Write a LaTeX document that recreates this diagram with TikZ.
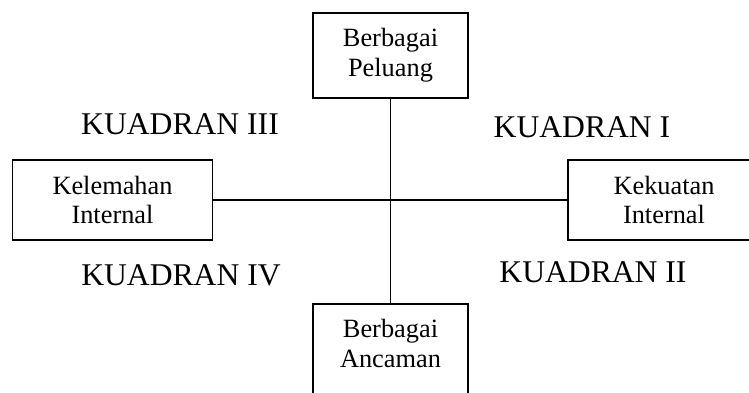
\documentclass[tikz,border=0pt]{standalone}
\usepackage{fontspec}
\setmainfont{Liberation Serif}
\usetikzlibrary{positioning}

\begin{document}
\begin{tikzpicture}[x=0.02cm, y=-0.02cm,
        kotak/.style={draw, line width=1pt, align=center, inner xsep=0pt, inner ysep=9pt,
            font=\fontsize{15}{17}\selectfont},
        kuadran/.style={inner sep=0pt, font=\fontsize{18}{20}\selectfont},
        garis/.style={line width=1pt}]

    \useasboundingbox (0,0) rectangle (749,392);

    \node[kotak, anchor=north, minimum width=3.1cm] (pel) at (390.5, 12) {Berbagai\\Peluang};
    \node[kotak, anchor=north, minimum width=3.1cm, text depth=12pt] (anc) at (390.5, 303) {Berbagai\\Ancaman};
    \node[kotak, minimum width=4cm] (kel) at (112.5, 200) {Kelemahan\\Internal};
    \node[kotak, minimum width=3.84cm] (kek) at (664, 200) {Kekuatan\\Internal};

    \node[kuadran] (q3) at (180, 124) {KUADRAN III};
    \node[kuadran] (q1) at (582, 127) {KUADRAN I};
    \node[kuadran] (q4) at (181, 275) {KUADRAN IV};
    \node[kuadran] (q2) at (593, 272) {KUADRAN II};

    \draw[garis] (pel.south) -- (anc.north);
    \draw[garis] (kel.east) -- (kek.west);

\end{tikzpicture}
\end{document}
